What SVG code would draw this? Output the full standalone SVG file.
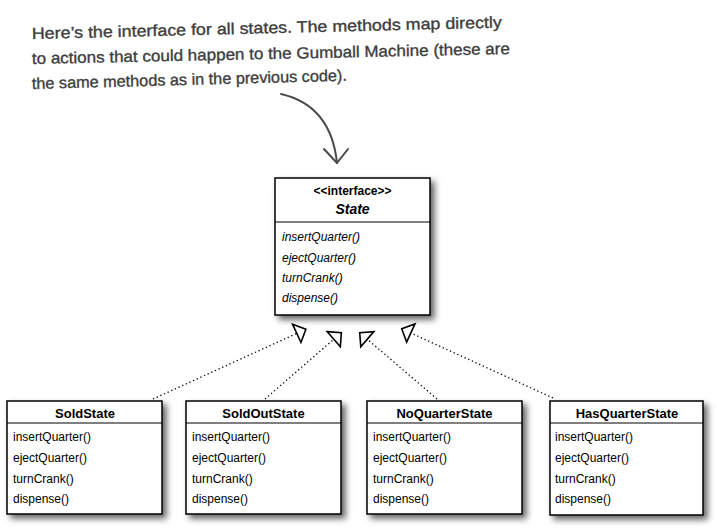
<svg xmlns="http://www.w3.org/2000/svg" width="717" height="529" viewBox="0 0 717 529">
<defs>
<filter id="sh" x="-10%" y="-10%" width="130%" height="130%">
<feDropShadow dx="4" dy="4" stdDeviation="3" flood-color="#000" flood-opacity="0.6"/>
</filter>
<marker id="tri" markerUnits="userSpaceOnUse" markerWidth="24" markerHeight="24" viewBox="-2 -12 14 24" refX="0" refY="0" orient="auto">
<path d="M0,-10 L10,0 L0,10 Z" fill="#fff" stroke="#000" stroke-width="1.6" stroke-linejoin="miter"/>
</marker>
</defs>
<style>
.box{fill:#fff;stroke:#000;stroke-width:1.5}
.div{stroke:#000;stroke-width:1}
.t{font-family:"Liberation Sans",Arial,sans-serif;fill:#000}
.title{font-size:13px;font-weight:bold;text-anchor:middle}
.m{font-size:12px}
.im{font-size:12px;font-style:italic}
.note{font-family:"Liberation Sans",Arial,sans-serif;font-size:16px;fill:#3d3d3d;stroke:#3d3d3d;stroke-width:0.35}
.conn{stroke:#000;stroke-width:1.3;stroke-dasharray:1.3 2.7;fill:none}
</style>
<g id="annotation">
<text class="note" x="32" y="39" transform="rotate(-1.4 32 39)" textLength="470" lengthAdjust="spacingAndGlyphs">Here’s the interface for all states.  The methods map directly</text>
<text class="note" x="32" y="64" transform="rotate(-1.2 32 64)" textLength="478" lengthAdjust="spacingAndGlyphs">to actions that could happen to the Gumball Machine (these are</text>
<text class="note" x="32" y="89" transform="rotate(-1.5 32 89)" textLength="315" lengthAdjust="spacingAndGlyphs">the same methods as in the previous code).</text>
<path d="M281,94 Q331,105.5 337,163" fill="none" stroke="#4a4a4a" stroke-width="2" stroke-linecap="round"/>
<path d="M324,149 L337,163 L348,149" fill="none" stroke="#4a4a4a" stroke-width="2" stroke-linecap="round" stroke-linejoin="round"/>
</g>
<g id="connectors">
<line class="conn" x1="153" y1="399" x2="296.8" y2="333.4" marker-end="url(#tri)"/>
<line class="conn" x1="265" y1="399" x2="333.8" y2="339.2" marker-end="url(#tri)"/>
<line class="conn" x1="437" y1="399" x2="367.3" y2="339.2" marker-end="url(#tri)"/>
<line class="conn" x1="553" y1="398" x2="410.8" y2="333" marker-end="url(#tri)"/>
</g>
<g id="State">
<rect class="box" x="275" y="178" width="155" height="137" filter="url(#sh)"/>
<line class="div" x1="275" y1="222" x2="430" y2="222"/>
<text class="t" x="352.5" y="195" font-size="12" font-weight="bold" text-anchor="middle">&lt;&lt;interface&gt;&gt;</text>
<text class="t" x="352.5" y="214" font-size="14" font-weight="bold" font-style="italic" text-anchor="middle">State</text>
<text class="t im" x="282" y="241">insertQuarter()</text>
<text class="t im" x="282" y="262">ejectQuarter()</text>
<text class="t im" x="282" y="282">turnCrank()</text>
<text class="t im" x="282" y="302">dispense()</text>
</g>
<g id="SoldState">
<rect class="box" x="7" y="401" width="155" height="113" filter="url(#sh)"/>
<line class="div" x1="7" y1="423" x2="162" y2="423"/>
<text class="t title" x="85" y="418">SoldState</text>
<text class="t m" x="13" y="441">insertQuarter()</text>
<text class="t m" x="13" y="462">ejectQuarter()</text>
<text class="t m" x="13" y="483">turnCrank()</text>
<text class="t m" x="13" y="503">dispense()</text>
</g>
<g id="SoldOutState">
<rect class="box" x="186" y="401" width="155" height="113" filter="url(#sh)"/>
<line class="div" x1="186" y1="423" x2="341" y2="423"/>
<text class="t title" x="263.5" y="418">SoldOutState</text>
<text class="t m" x="192" y="441">insertQuarter()</text>
<text class="t m" x="192" y="462">ejectQuarter()</text>
<text class="t m" x="192" y="483">turnCrank()</text>
<text class="t m" x="192" y="503">dispense()</text>
</g>
<g id="NoQuarterState">
<rect class="box" x="367" y="401" width="155" height="113" filter="url(#sh)"/>
<line class="div" x1="367" y1="423" x2="522" y2="423"/>
<text class="t title" x="444.5" y="418">NoQuarterState</text>
<text class="t m" x="373" y="441">insertQuarter()</text>
<text class="t m" x="373" y="462">ejectQuarter()</text>
<text class="t m" x="373" y="483">turnCrank()</text>
<text class="t m" x="373" y="503">dispense()</text>
</g>
<g id="HasQuarterState">
<rect class="box" x="550" y="401" width="153" height="114" filter="url(#sh)"/>
<line class="div" x1="550" y1="423" x2="703" y2="423"/>
<text class="t title" x="627" y="418">HasQuarterState</text>
<text class="t m" x="555" y="441" font-size="11">insertQuarter()</text>
<text class="t m" x="555" y="462" font-size="11">ejectQuarter()</text>
<text class="t m" x="555" y="483" font-size="11">turnCrank()</text>
<text class="t m" x="555" y="503" font-size="11">dispense()</text>
</g>
</svg>
